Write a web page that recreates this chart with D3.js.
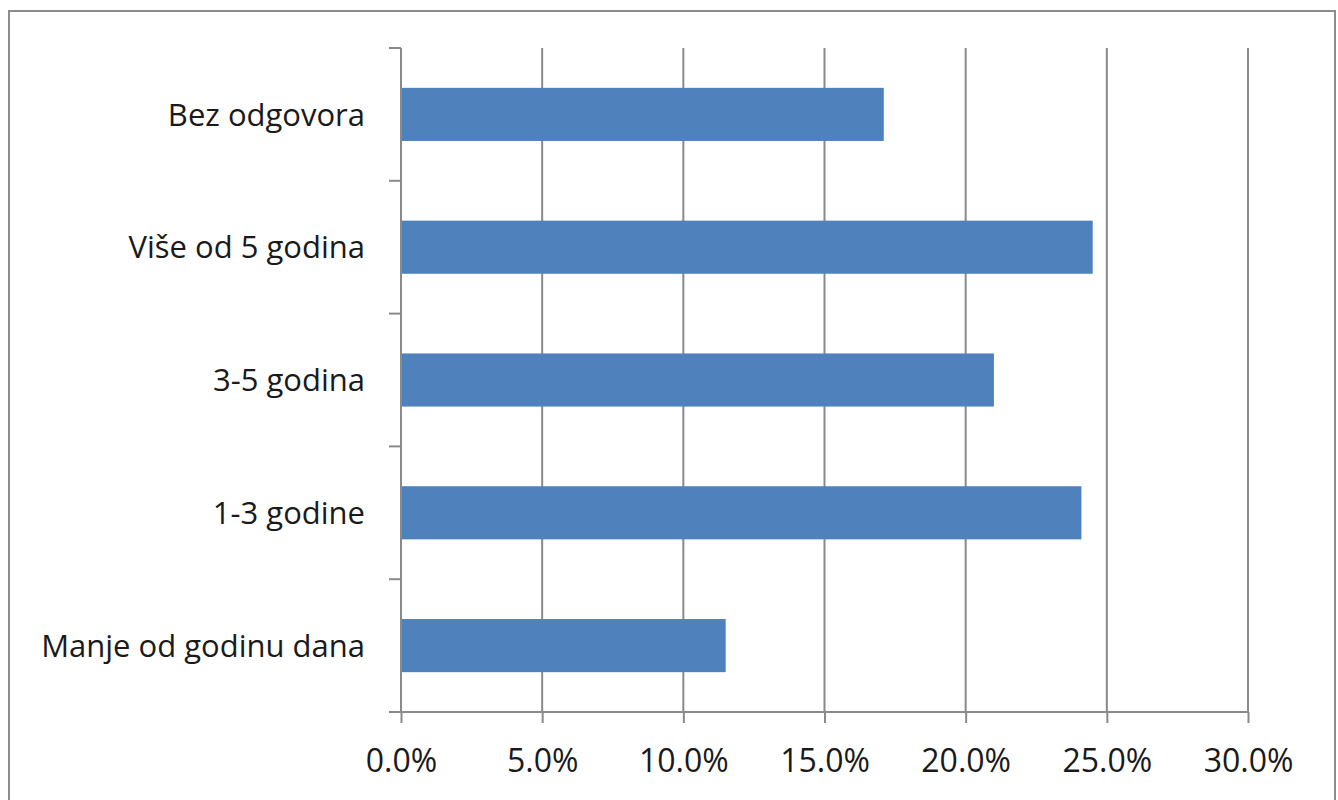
<!DOCTYPE html>
<html>
<head>
<meta charset="utf-8">
<script src="https://cdn.jsdelivr.net/npm/d3@7"></script>
<style>
  html, body { margin: 0; padding: 0; background: #fff; }
  svg { display: block; }
</style>
</head>
<body>
<svg id="chart" width="1338" height="800"></svg>
<script>
// Categories, top to bottom
const categories = ["Bez odgovora", "Više od 5 godina", "3-5 godina", "1-3 godine", "Manje od godinu dana"];
// Share of respondents (%)
const values = [17.1, 24.5, 21.0, 24.1, 11.5];
// X axis ticks (%)
const xTicks = [0, 5, 10, 15, 20, 25, 30];

const svg = d3.select("#chart");
const plot = { left: 401, right: 1248, top: 48, bottom: 712 };
const gridColor = "#8a8a8a";
const font = "'Open Sans', sans-serif";

// Outer chart border
svg.append("rect")
  .attr("x", 9).attr("y", 11)
  .attr("width", 1326).attr("height", 820)
  .attr("fill", "none")
  .attr("stroke", "#8c8c8c")
  .attr("stroke-width", 2);

const x = d3.scaleLinear().domain([0, 30]).range([plot.left, plot.right]);
const y = d3.scaleBand().domain(categories).range([plot.top, plot.bottom]).paddingInner(0.6).paddingOuter(0.3);

// Vertical gridlines
svg.append("g")
  .selectAll("line")
  .data(xTicks.slice(1))
  .join("line")
  .attr("x1", d => x(d)).attr("x2", d => x(d))
  .attr("y1", plot.top).attr("y2", plot.bottom)
  .attr("stroke", gridColor)
  .attr("stroke-width", 2);

// Bars
svg.append("g")
  .selectAll("rect")
  .data(categories)
  .join("rect")
  .attr("x", x(0))
  .attr("y", d => y(d))
  .attr("width", (d, i) => x(values[i]) - x(0))
  .attr("height", y.bandwidth())
  .attr("fill", "#4f81bd");

// X axis
const xAxis = d3.axisBottom(x)
  .tickValues(xTicks)
  .tickFormat(d => d3.format(".1f")(d) + "%")
  .tickSize(11)
  .tickSizeOuter(0)
  .tickPadding(26);
const gx = svg.append("g").attr("transform", `translate(0,${plot.bottom})`).call(xAxis);
gx.select(".domain").attr("stroke", gridColor).attr("stroke-width", 2)
  .attr("d", `M${plot.left - 12},0H${plot.right}`);
gx.selectAll(".tick line").attr("stroke", gridColor).attr("stroke-width", 2);
gx.selectAll(".tick text")
  .attr("font-family", font).attr("font-size", 32).attr("fill", "#1a1a1a");

// Y axis: category boundaries as ticks
const bounds = d3.range(categories.length + 1).map(i => plot.top + i * (plot.bottom - plot.top) / categories.length);
const gy = svg.append("g");
gy.append("line")
  .attr("x1", plot.left).attr("x2", plot.left)
  .attr("y1", plot.top).attr("y2", plot.bottom)
  .attr("stroke", gridColor).attr("stroke-width", 2);
gy.selectAll("line.tick")
  .data(bounds)
  .join("line")
  .attr("class", "tick")
  .attr("x1", plot.left - 12).attr("x2", plot.left)
  .attr("y1", d => d).attr("y2", d => d)
  .attr("stroke", gridColor).attr("stroke-width", 2);
gy.selectAll("text")
  .data(categories)
  .join("text")
  .attr("x", plot.left - 36)
  .attr("y", d => y(d) + y.bandwidth() / 2)
  .attr("dy", "0.36em")
  .attr("text-anchor", "end")
  .attr("font-family", font)
  .attr("font-size", 31)
  .attr("fill", "#1a1a1a")
  .text(d => d);
</script>
</body>
</html>
